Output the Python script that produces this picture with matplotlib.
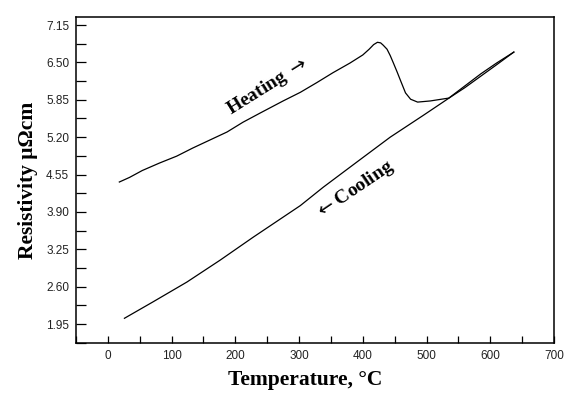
import matplotlib
matplotlib.use("Agg")
import matplotlib.pyplot as plt
from matplotlib.ticker import MultipleLocator, FixedLocator

# Heating branch (temperature in C, resistivity in micro-ohm cm)
heat_t = [18, 34, 54, 81, 108, 133, 160, 187, 212, 239, 275, 302, 328, 353, 380,
          400, 410, 417, 423, 428, 432, 438, 443, 448, 454, 459, 467, 475, 486,
          506, 535, 560, 585, 610, 637]
heat_r = [4.42, 4.50, 4.62, 4.75, 4.87, 5.01, 5.15, 5.29, 5.46, 5.62, 5.83, 5.98,
          6.15, 6.32, 6.49, 6.63, 6.73, 6.81, 6.85, 6.84, 6.80, 6.73, 6.62, 6.49,
          6.33, 6.19, 5.97, 5.86, 5.81, 5.83, 5.88, 6.09, 6.30, 6.49, 6.68]

# Cooling branch, from the top end back down to room temperature
cool_t = [637, 610, 585, 560, 538, 495, 443, 391, 338, 302, 228, 176, 124, 70, 26]
cool_r = [6.68, 6.46, 6.26, 6.06, 5.90, 5.58, 5.20, 4.77, 4.33, 4.01, 3.46,
          3.06, 2.68, 2.33, 2.05]

y_ticks = [1.95, 2.60, 3.25, 3.90, 4.55, 5.20, 5.85, 6.50, 7.15]
y_labels = ["1.95", "2.60", "3.25", "3.90", "4.55", "5.20", "5.85", "6.50", "7.15"]
x_ticks = [0, 100, 200, 300, 400, 500, 600, 700]

fig = plt.figure(figsize=(5.67, 3.96), dpi=100)
ax = fig.add_axes([76 / 567, 1 - 343 / 396, (554 - 76) / 567, (343 - 17) / 396])

ax.plot(heat_t, heat_r, color="black", lw=0.9)
ax.plot(cool_t, cool_r, color="black", lw=0.9)

ax.set_xlim(-50, 700)
ax.set_ylim(1.62, 7.29)

ax.xaxis.set_major_locator(FixedLocator(x_ticks))
ax.xaxis.set_minor_locator(MultipleLocator(50))
ax.yaxis.set_major_locator(FixedLocator(y_ticks))
ax.set_yticklabels(y_labels)
ax.yaxis.set_minor_locator(MultipleLocator(0.325, offset=1.95))

ax.tick_params(which="both", direction="in", color="black", width=0.9,
               labelsize=8.5, labelcolor="#222222", pad=5)
ax.tick_params(axis="x", which="both", length=5)
ax.tick_params(axis="y", which="both", length=7)
for lab in ax.get_xticklabels() + ax.get_yticklabels():
    lab.set_family("Liberation Sans")
for sp in ax.spines.values():
    sp.set_linewidth(1.1)

lbl_font = dict(family="Liberation Serif", weight="bold", size=15.5)
ax.set_xlabel("Temperature, °C", labelpad=6, x=0.48, **lbl_font)
ax.set_ylabel("Resistivity μΩcm", labelpad=6, **lbl_font)

ann_font = dict(family="Liberation Serif", weight="bold", size=14)
ax.text(250, 6.08, r"Heating $\rightarrow$", rotation=32, ha="center", va="center",
        **ann_font)
ax.text(388, 4.28, r"$\leftarrow$Cooling", rotation=34, ha="center", va="center",
        **ann_font)

fig.savefig("out.png", dpi=100)
